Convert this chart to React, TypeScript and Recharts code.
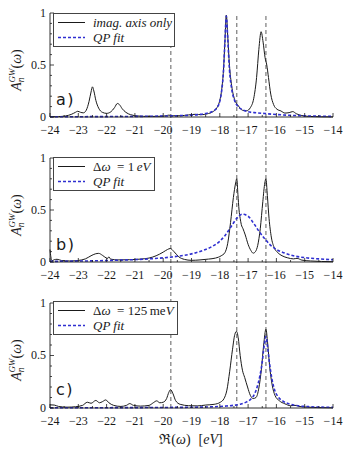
import React from "react";
import { Legend, Line, LineChart, ReferenceLine, XAxis, YAxis } from "recharts";

// energy axis: major ticks at integers, minor ticks at the halves
const energyTicks = [
  -24, -23.5, -23, -22.5, -22, -21.5, -21, -20.5, -20, -19.5, -19, -18.5, -18, -17.5, -17, -16.5, -16, -15.5, -15,
  -14.5, -14,
];
const weightTicks = [0, 0.1, 0.2, 0.3, 0.4, 0.5, 0.6, 0.7, 0.8, 0.9, 1];
const weightLabels = [0, 0.5, 1];

// quasiparticle energies (eV)
const qpEnergies = [-19.73, -17.4, -16.37];

// [omega (eV), A_n^GW]
const imagAxisOnly: [number, number][] = [
  [-24, 0.002], [-23.7, 0.004], [-23.45, 0.01], [-23.25, 0.025], [-23.1, 0.045], [-23.02, 0.055], [-22.92, 0.045],
  [-22.82, 0.04], [-22.72, 0.065], [-22.62, 0.15], [-22.55, 0.24], [-22.5, 0.29], [-22.45, 0.25], [-22.38, 0.16],
  [-22.28, 0.085], [-22.15, 0.045], [-22.0, 0.035], [-21.85, 0.05], [-21.72, 0.09], [-21.62, 0.13], [-21.55, 0.12],
  [-21.45, 0.08], [-21.32, 0.045], [-21.15, 0.022], [-20.9, 0.01], [-20.5, 0.005], [-20.1, 0.007], [-19.9, 0.012],
  [-19.8, 0.018], [-19.65, 0.012], [-19.4, 0.012], [-19.1, 0.02], [-18.85, 0.026], [-18.65, 0.022], [-18.45, 0.03],
  [-18.25, 0.05], [-18.1, 0.09], [-18.0, 0.16], [-17.93, 0.27], [-17.87, 0.45], [-17.82, 0.72], [-17.77, 0.98],
  [-17.72, 0.78], [-17.66, 0.5], [-17.58, 0.3], [-17.48, 0.17], [-17.35, 0.11], [-17.2, 0.065], [-17.05, 0.06],
  [-16.92, 0.09], [-16.8, 0.18], [-16.7, 0.38], [-16.62, 0.65], [-16.54, 0.82], [-16.47, 0.72], [-16.4, 0.57],
  [-16.34, 0.5], [-16.28, 0.38], [-16.2, 0.22], [-16.1, 0.12], [-15.98, 0.075], [-15.84, 0.058], [-15.7, 0.038],
  [-15.55, 0.042], [-15.42, 0.052], [-15.3, 0.032], [-15.1, 0.014], [-14.8, 0.005], [-14.4, 0.002], [-14, 0.001],
];
const qpFitA: [number, number][] = [
  [-24, 0.002], [-22, 0.004], [-20.5, 0.007], [-19.5, 0.012], [-19, 0.018], [-18.7, 0.025], [-18.45, 0.037],
  [-18.25, 0.055], [-18.1, 0.09], [-18.0, 0.15], [-17.93, 0.26], [-17.87, 0.44], [-17.82, 0.72], [-17.77, 0.97],
  [-17.72, 0.76], [-17.66, 0.46], [-17.58, 0.27], [-17.48, 0.16], [-17.35, 0.1], [-17.2, 0.07], [-17.0, 0.05],
  [-16.7, 0.04], [-16.4, 0.033], [-16.0, 0.024], [-15.5, 0.016], [-15.0, 0.011], [-14.5, 0.008], [-14, 0.006],
];

const window1eV: [number, number][] = [
  [-24, 0.12], [-23.97, 0.05], [-23.93, 0.012], [-23.85, 0.022], [-23.75, 0.026], [-23.6, 0.015], [-23.3, 0.01],
  [-23.0, 0.015], [-22.75, 0.03], [-22.55, 0.06], [-22.4, 0.078], [-22.28, 0.083], [-22.15, 0.065], [-22.02, 0.04],
  [-21.96, 0.035], [-21.92, 0.05], [-21.86, 0.028], [-21.6, 0.02], [-21.2, 0.022], [-20.8, 0.028], [-20.5, 0.038],
  [-20.25, 0.06], [-20.0, 0.095], [-19.85, 0.12], [-19.75, 0.13], [-19.62, 0.1], [-19.45, 0.05], [-19.25, 0.025],
  [-19.0, 0.016], [-18.7, 0.02], [-18.4, 0.028], [-18.15, 0.038], [-17.95, 0.06], [-17.82, 0.09], [-17.72, 0.18],
  [-17.62, 0.38], [-17.52, 0.62], [-17.44, 0.76], [-17.4, 0.8], [-17.36, 0.65], [-17.32, 0.5], [-17.28, 0.42],
  [-17.24, 0.36], [-17.18, 0.32], [-17.1, 0.26], [-17.0, 0.17], [-16.9, 0.11], [-16.82, 0.085], [-16.74, 0.1],
  [-16.66, 0.16], [-16.57, 0.32], [-16.48, 0.58], [-16.41, 0.76], [-16.37, 0.8], [-16.32, 0.64], [-16.26, 0.42],
  [-16.18, 0.24], [-16.08, 0.14], [-15.95, 0.09], [-15.8, 0.06], [-15.6, 0.04], [-15.4, 0.03], [-15.27, 0.035],
  [-15.1, 0.018], [-14.8, 0.01], [-14.4, 0.005], [-14, 0.003],
];
const qpFitB: [number, number][] = [
  [-24, 0.006], [-23.5, 0.007], [-23, 0.009], [-22.5, 0.011], [-22, 0.014], [-21.5, 0.018], [-21, 0.023],
  [-20.5, 0.03], [-20, 0.04], [-19.5, 0.055], [-19, 0.078], [-18.6, 0.11], [-18.3, 0.145], [-18, 0.2], [-17.8, 0.26],
  [-17.6, 0.34], [-17.4, 0.42], [-17.2, 0.46], [-17.0, 0.44], [-16.8, 0.37], [-16.6, 0.29], [-16.4, 0.22],
  [-16.2, 0.16], [-16.0, 0.12], [-15.7, 0.085], [-15.4, 0.06], [-15.0, 0.042], [-14.5, 0.03], [-14, 0.022],
];

const window125meV: [number, number][] = [
  [-24, 0.03], [-23.85, 0.028], [-23.7, 0.015], [-23.4, 0.008], [-23.1, 0.012], [-22.85, 0.025], [-22.68, 0.055],
  [-22.55, 0.045], [-22.38, 0.072], [-22.25, 0.05], [-22.15, 0.06], [-22.03, 0.077], [-21.92, 0.05], [-21.75, 0.025],
  [-21.5, 0.015], [-21.3, 0.025], [-21.18, 0.042], [-21.05, 0.025], [-20.8, 0.018], [-20.5, 0.025], [-20.35, 0.05],
  [-20.23, 0.068], [-20.12, 0.05], [-20.0, 0.055], [-19.88, 0.09], [-19.8, 0.15], [-19.74, 0.175], [-19.66, 0.14],
  [-19.56, 0.07], [-19.4, 0.035], [-19.1, 0.022], [-18.8, 0.02], [-18.5, 0.028], [-18.2, 0.035], [-17.98, 0.055],
  [-17.85, 0.09], [-17.75, 0.17], [-17.65, 0.35], [-17.55, 0.56], [-17.47, 0.7], [-17.41, 0.73], [-17.35, 0.67],
  [-17.28, 0.5], [-17.2, 0.36], [-17.12, 0.29], [-17.02, 0.2], [-16.92, 0.12], [-16.82, 0.09], [-16.72, 0.1],
  [-16.62, 0.19], [-16.53, 0.37], [-16.45, 0.6], [-16.37, 0.75], [-16.31, 0.62], [-16.24, 0.4], [-16.15, 0.22],
  [-16.05, 0.12], [-15.9, 0.07], [-15.7, 0.04], [-15.5, 0.022], [-15.3, 0.025], [-15.2, 0.015], [-14.9, 0.008],
  [-14.5, 0.004], [-14, 0.002],
];
const qpFitC: [number, number][] = [
  [-24, 0.002], [-22, 0.003], [-20, 0.005], [-19, 0.007], [-18.2, 0.012], [-17.8, 0.018], [-17.5, 0.026],
  [-17.25, 0.038], [-17.05, 0.058], [-16.9, 0.085], [-16.78, 0.13], [-16.68, 0.2], [-16.58, 0.31], [-16.5, 0.44],
  [-16.43, 0.6], [-16.37, 0.68], [-16.32, 0.6], [-16.25, 0.44], [-16.16, 0.28], [-16.06, 0.17], [-15.92, 0.1],
  [-15.75, 0.062], [-15.5, 0.035], [-15.2, 0.02], [-14.8, 0.012], [-14.4, 0.008], [-14, 0.006],
];

const SERIF = "'Liberation Serif', 'DejaVu Serif', serif";
const SANS = "'DejaVu Sans', 'Liberation Sans', sans-serif";
const INK = "#1a1a1a";
const FIT_BLUE = "#2f2fd0";
const X_GAP = 8.5;
const Y_GAP = 4;
const TICK_FONT = 12;

const toPoints = (s: [number, number][]) => s.map(([w, a]) => ({ w, a }));
const fmtEnergy = (v: number) => (v < 0 ? "\u2212" : "") + Math.abs(v);

function EnergyTick(props: any) {
  const { x, y, payload } = props;
  const v = payload.value as number;
  const major = Number.isInteger(v);
  const axisY = y - X_GAP;
  return (
    <g>
      <line x1={x} x2={x} y1={axisY} y2={axisY - (major ? 4 : 2)} stroke={INK} strokeWidth={0.8} />
      {major && (
        <text x={x} y={y} dy="0.71em" textAnchor="middle" fontFamily={SERIF} fontSize={TICK_FONT} fill={INK}>
          {fmtEnergy(v)}
        </text>
      )}
    </g>
  );
}

function WeightTick(props: any) {
  const { x, y, payload } = props;
  const v = payload.value as number;
  const major = weightLabels.some((m) => Math.abs(m - v) < 1e-6);
  const axisX = x + Y_GAP;
  return (
    <g>
      <line x1={axisX} x2={axisX + (major ? 4 : 2)} y1={y} y2={y} stroke={INK} strokeWidth={0.8} />
      {major && (
        <text x={x} y={y} dy="0.33em" textAnchor="end" fontFamily={SERIF} fontSize={TICK_FONT} fill={INK}>
          {v}
        </text>
      )}
    </g>
  );
}

function LegendBox({ width, label }: { width: number; label: React.ReactNode }) {
  const row = (dashed: boolean, text: React.ReactNode) => (
    <div style={{ display: "flex", alignItems: "center", height: 15 }}>
      <svg width={31} height={15} style={{ marginLeft: 4, marginRight: 4 }}>
        <line
          x1={0}
          x2={27}
          y1={7.5}
          y2={7.5}
          stroke={dashed ? FIT_BLUE : INK}
          strokeWidth={dashed ? 1.6 : 1}
          strokeDasharray={dashed ? "3 2" : undefined}
        />
      </svg>
      <span style={{ whiteSpace: "nowrap" }}>{text}</span>
    </div>
  );
  return (
    <div
      style={{
        width,
        height: 34,
        boxSizing: "border-box",
        border: "1px solid #444",
        background: "#fff",
        paddingTop: 1,
        fontFamily: SERIF,
        fontSize: 13,
        color: INK,
        lineHeight: "15px",
      }}
    >
      {row(false, label)}
      {row(true, <i>QP fit</i>)}
    </div>
  );
}

function YLabel() {
  return (
    <text transform="translate(21,70) rotate(-90)" textAnchor="middle" fontFamily={SERIF} fontSize={14} fill={INK}>
      <tspan fontStyle="italic">A</tspan>
      <tspan fontSize={9.5} fontStyle="italic" dy={3}>n</tspan>
      <tspan fontSize={9} fontStyle="italic" dx={-5} dy={-9}>GW</tspan>
      <tspan dy={6}>(</tspan>
      <tspan fontStyle="italic">ω</tspan>
      <tspan>)</tspan>
    </text>
  );
}

type PanelProps = {
  top: number;
  height: number;
  axisHeight: number;
  tag: string;
  spectrum: [number, number][];
  fit: [number, number][];
  legendLabel: React.ReactNode;
  legendWidth: number;
  legendTop: number;
  lineTop: number;
  lineBottom: number;
  xLabel?: boolean;
};

function Panel(p: PanelProps) {
  return (
    <div style={{ position: "absolute", left: 0, top: p.top }}>
      <LineChart width={345} height={p.height} margin={{ top: 13, right: 12, bottom: 0, left: 8 }}>
        <XAxis
          dataKey="w"
          type="number"
          domain={[-24, -14]}
          ticks={energyTicks}
          interval={0}
          height={p.axisHeight}
          axisLine={{ stroke: INK, strokeWidth: 0.9 }}
          tickLine={false}
          tickSize={0}
          tickMargin={X_GAP}
          tick={EnergyTick}
        />
        <YAxis
          type="number"
          domain={[0, 1]}
          ticks={weightTicks}
          interval={0}
          width={42}
          axisLine={{ stroke: INK, strokeWidth: 0.9 }}
          tickLine={false}
          tickSize={0}
          tickMargin={Y_GAP}
          tick={WeightTick}
        />
        {qpEnergies.map((e) => (
          <ReferenceLine
            key={e}
            segment={[
              { x: e, y: p.lineBottom },
              { x: e, y: p.lineTop },
            ]}
            ifOverflow="visible"
            stroke="#6e6e6e"
            strokeWidth={1.1}
            strokeDasharray="4 3"
          />
        ))}
        <Line
          data={toPoints(p.spectrum)}
          dataKey="a"
          type="monotone"
          stroke={INK}
          strokeWidth={1}
          dot={false}
          activeDot={false}
          isAnimationActive={false}
        />
        <Line
          data={toPoints(p.fit)}
          dataKey="a"
          type="monotone"
          stroke={FIT_BLUE}
          strokeWidth={1.6}
          strokeDasharray="3 2"
          dot={false}
          activeDot={false}
          isAnimationActive={false}
        />
        <Legend
          layout="horizontal"
          verticalAlign="middle"
          wrapperStyle={{ top: p.legendTop, left: 53, width: "auto", height: "auto" }}
          content={() => <LegendBox width={p.legendWidth} label={p.legendLabel} />}
        />
        <YLabel />
        <text x={56} y={105} fontFamily={SANS} fontSize={16} letterSpacing={1.5} fill={INK}>
          {p.tag}
        </text>
        {p.xLabel && (
          <text x={191} y={154} textAnchor="middle" fontFamily={SERIF} fontSize={14} fill={INK}>
            <tspan>ℜ(</tspan>
            <tspan fontStyle="italic">ω</tspan>
            <tspan>)</tspan>
            <tspan dx={8}>[</tspan>
            <tspan fontStyle="italic">eV</tspan>
            <tspan>]</tspan>
          </text>
        )}
      </LineChart>
    </div>
  );
}

export default function App() {
  return (
    <div style={{ position: "absolute", left: 0, top: 0, width: 345, height: 450, background: "#fff" }}>
      <Panel
        top={0}
        height={145}
        axisHeight={28}
        tag="a)"
        spectrum={imagAxisOnly}
        fit={qpFitA}
        legendLabel={<i>imag. axis only</i>}
        legendWidth={122}
        legendTop={13}
        lineTop={1}
        lineBottom={-0.28}
      />
      <Panel
        top={145}
        height={145}
        axisHeight={28}
        tag="b)"
        spectrum={window1eV}
        fit={qpFitB}
        legendLabel={
          <span>
            Δ<i>ω</i>&nbsp;&nbsp;= 1&thinsp;<i>eV</i>
          </span>
        }
        legendWidth={102}
        legendTop={12}
        lineTop={1.13}
        lineBottom={-0.28}
      />
      <Panel
        top={290}
        height={160}
        axisHeight={42}
        tag="c)"
        spectrum={window125meV}
        fit={qpFitC}
        legendLabel={
          <span>
            Δ<i>ω</i>&nbsp;&nbsp;= 125&thinsp;me<i>V</i>
          </span>
        }
        legendWidth={125}
        legendTop={11}
        lineTop={1.13}
        lineBottom={0}
        xLabel
      />
    </div>
  );
}
